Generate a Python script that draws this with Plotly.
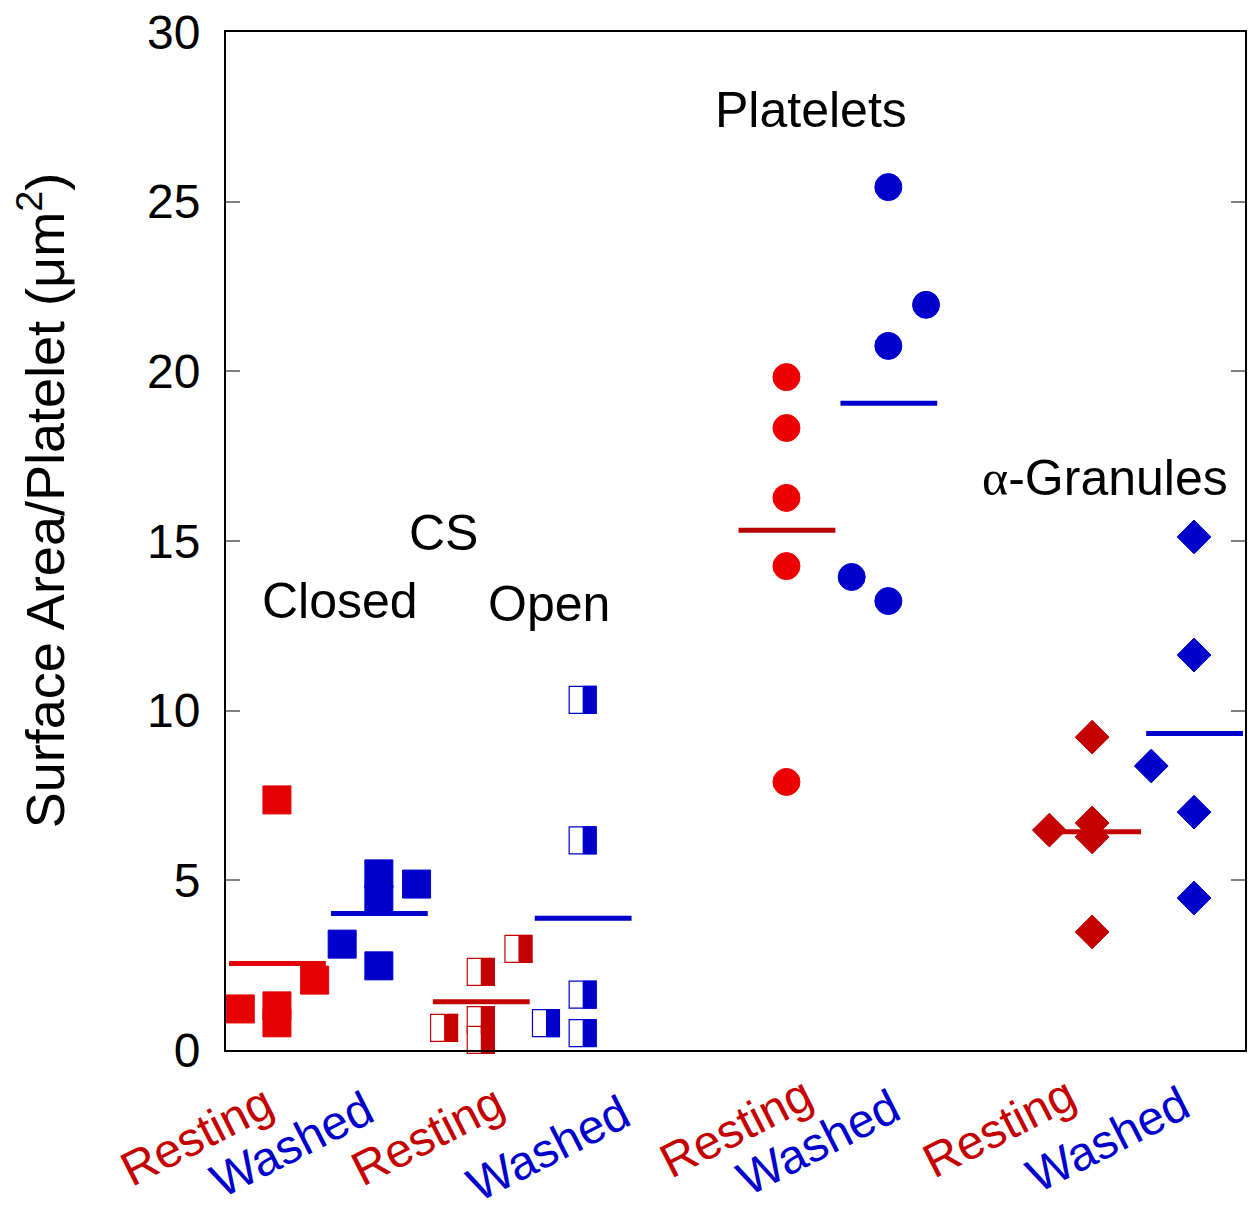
import plotly.graph_objects as go

# ---------------- data ----------------
closed_resting = [1.21, 7.37, 1.30, 0.80, 2.06]
closed_washed = [3.12, 2.48, 5.19, 4.45, 4.89]
open_resting = [0.65, 2.30, 0.88, 0.30, 2.98]
open_washed = [0.79, 1.63, 0.50, 6.18, 10.32]
platelets_resting = [19.83, 18.33, 16.27, 14.26, 7.90]
platelets_washed = [13.94, 13.23, 20.75, 25.43, 21.96]
granules_resting = [6.48, 9.22, 6.69, 6.28, 3.48]
granules_washed = [8.37, 15.12, 11.64, 7.01, 4.48]

tick_labels = ["Resting", "Washed", "Resting", "Washed",
               "Resting", "Washed", "Resting", "Washed"]
y_ticks = [0, 5, 10, 15, 20, 25, 30]
group_titles = ["Closed", "CS", "Open", "Platelets", "α-Granules"]

# ---------------- layout / positions ----------------
slot_x = [0.5, 1.5, 2.5, 3.5, 5.5, 6.5, 8.5, 9.5]
jitter = [
    [-0.36, 0, 0, 0, 0.37],
    [-0.36, 0, 0, 0, 0.37],
    [-0.36, 0, 0, 0, 0.37],
    [-0.36, 0, 0, 0, 0],
    [0, 0, 0, 0, 0],
    [-0.36, 0, 0, 0, 0.37],
    [-0.42, 0, 0, 0, 0],
    [-0.42, 0, 0, 0, 0],
]
label_px = [-0.0285, 0.0648, 0.1973, 0.316, 0.5005, 0.581, 0.7586, 0.8656]
label_py = [-0.0835, -0.0933, -0.0835, -0.0963, -0.0766, -0.0904, -0.0766, -0.0884]
title_pos = [(1.12, 13.23), (2.13, 15.24), (3.17, 13.14), (5.74, 27.7), (8.63, 16.86)]

W, H = 1255, 1226
ML, MT = 226, 32
MR = W - 1245
MB = H - 1050
XR = [0, 10]
px_per_x = (W - ML - MR) / (XR[1] - XR[0])

RED = "rgb(228,0,0)"
DRED = "rgb(196,0,0)"
MRED = "rgb(185,0,0)"
BLUE = "rgb(0,0,204)"

FONT = "Liberation Sans, Arial, Helvetica, sans-serif"

fig = go.Figure()


def xs(i):
    return [slot_x[i] + o for o in jitter[i]]


def add_markers(i, vals, symbol, color, size):
    fig.add_trace(go.Scatter(
        x=xs(i), y=vals, mode="markers", cliponaxis=False,
        marker=dict(symbol=symbol, size=size, color=color,
                    line=dict(color=color, width=1)),
        showlegend=False, hoverinfo="y"))


def add_half(i, vals, color):
    fig.add_trace(go.Scatter(
        x=xs(i), y=vals, mode="markers", cliponaxis=False,
        marker=dict(symbol="square", size=27, color="white",
                    line=dict(color=color, width=1.2)),
        showlegend=False, hoverinfo="y"))
    shift = 7 / px_per_x
    fig.add_trace(go.Scatter(
        x=[v + shift for v in xs(i)], y=vals, mode="markers", cliponaxis=False,
        marker=dict(symbol="line-ns", size=20, color=color,
                    line=dict(color=color, width=14)),
        showlegend=False, hoverinfo="skip"))


def add_mean(i, vals, color):
    m = sum(vals) / len(vals)
    c = slot_x[i]
    fig.add_trace(go.Scatter(
        x=[c - 0.47, c + 0.48], y=[m, m], mode="lines", cliponaxis=False,
        line=dict(color=color, width=5), showlegend=False, hoverinfo="y"))


# CS closed
add_markers(0, closed_resting, "square", RED, 28)
add_mean(0, closed_resting, RED)
add_markers(1, closed_washed, "square", BLUE, 28)
add_mean(1, closed_washed, BLUE)
# CS open
add_half(2, open_resting, DRED)
add_mean(2, open_resting, DRED)
add_half(3, open_washed, BLUE)
add_mean(3, open_washed, BLUE)
# Platelets
add_markers(4, platelets_resting, "circle", "rgb(238,0,0)", 27)
add_mean(4, platelets_resting, MRED)
add_markers(5, platelets_washed, "circle", BLUE, 27)
add_mean(5, platelets_washed, BLUE)
# alpha granules
add_markers(6, granules_resting, "diamond", DRED, 26)
add_mean(6, granules_resting, DRED)
add_markers(7, granules_washed, "diamond", BLUE, 26)
add_mean(7, granules_washed, BLUE)

annotations = []
# group titles
for t, (x, y) in zip(group_titles, title_pos):
    txt = t
    if t.startswith("α"):
        txt = '<span style="font-family:Liberation Serif, Times New Roman, serif">α</span>' + t[1:]
    annotations.append(dict(x=x, y=y, xref="x", yref="y", text=txt, showarrow=False,
                            xanchor="center", yanchor="middle",
                            font=dict(size=50, color="black", family=FONT)))
# category labels
for t, x, y in zip(tick_labels, label_px, label_py):
    annotations.append(dict(x=x, y=y, xref="paper", yref="paper", text=t, showarrow=False,
                            xanchor="center", yanchor="middle", textangle=-27,
                            font=dict(size=48, color=DRED if t == "Resting" else BLUE,
                                      family=FONT)))
# y title
annotations.append(dict(x=-0.1806, y=0.54, xref="paper", yref="paper",
                        text="Surface Area/Platelet (μm<sup>2</sup>)",
                        showarrow=False, textangle=-90,
                        xanchor="center", yanchor="middle",
                        font=dict(size=54, color="black", family=FONT)))

fig.update_layout(
    width=W, height=H,
    margin=dict(l=ML, r=MR, t=MT, b=MB, pad=0, autoexpand=False),
    paper_bgcolor="white", plot_bgcolor="white",
    font=dict(family=FONT, color="black"),
    annotations=annotations,
    xaxis=dict(range=XR, showgrid=False, zeroline=False, showticklabels=False,
               automargin=False,
               ticks="", showline=True, mirror=True, linecolor="black", linewidth=2),
    yaxis=dict(range=[0, 30], tickvals=y_ticks, ticktext=[str(v) for v in y_ticks],
               automargin=False, ticklabeloverflow="allow",
               showgrid=False, zeroline=False, ticks="inside", ticklen=14,
               tickwidth=1.5, tickcolor="#808080", mirror="ticks", showline=True,
               linecolor="black", linewidth=2, ticklabelstandoff=14,
               tickfont=dict(size=48, color="black", family=FONT)),
)

fig.write_html("out.html",
               config={"displayModeBar": False},
               post_script="document.body.style.margin='0';document.body.style.overflow='hidden';")
